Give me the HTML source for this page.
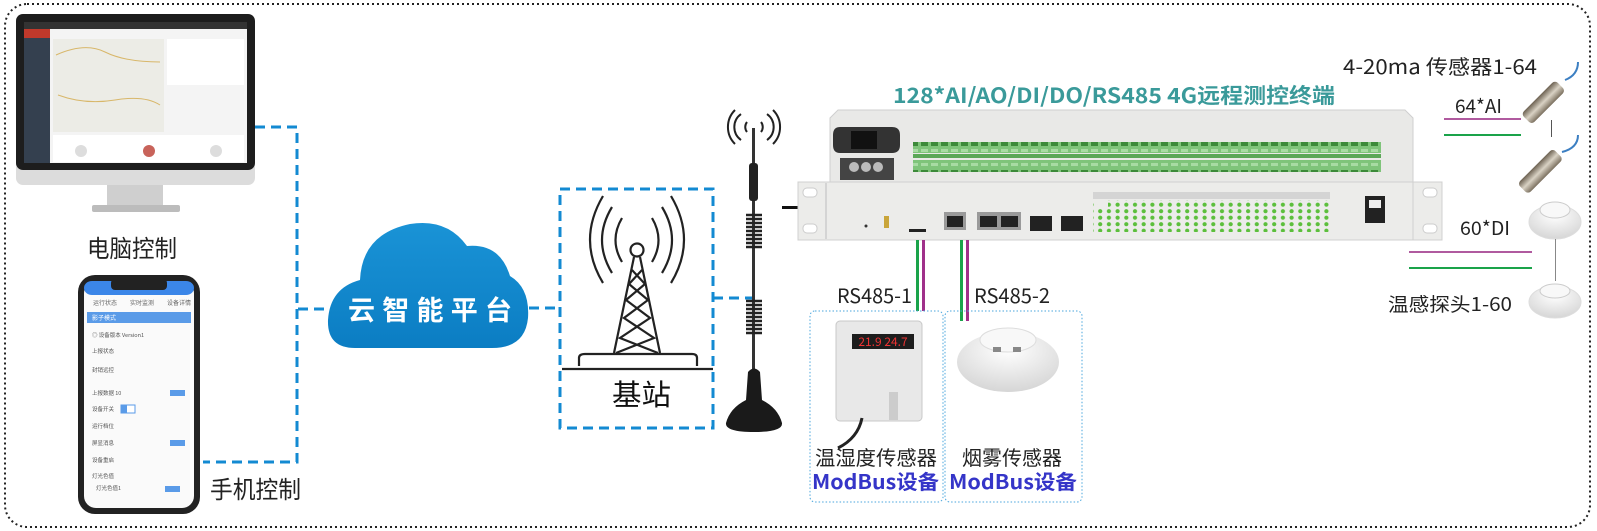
<!DOCTYPE html>
<html><head><meta charset="utf-8"><style>
html,body{margin:0;padding:0;background:#fff;}
svg{display:block;}
text{font-family:"Noto Sans CJK SC","Liberation Sans",sans-serif;}
</style></head><body>
<svg width="1597" height="531" viewBox="0 0 1597 531" xmlns="http://www.w3.org/2000/svg">
<defs>
<linearGradient id="cl" x1="0" y1="0" x2="0" y2="1"><stop offset="0" stop-color="#1a93d6"/><stop offset="1" stop-color="#0b7dc3"/></linearGradient>
<linearGradient id="probe" x1="0" y1="0" x2="1" y2="0"><stop offset="0" stop-color="#6b6050"/><stop offset=".5" stop-color="#d9d2c4"/><stop offset="1" stop-color="#7a6f5e"/></linearGradient>
<radialGradient id="smk" cx=".5" cy=".3" r=".7"><stop offset="0" stop-color="#fff"/><stop offset="1" stop-color="#d6d6d6"/></radialGradient>
<pattern id="term" width="10" height="14" patternUnits="userSpaceOnUse"><rect width="10" height="14" fill="#7fc47a"/><rect x="1" y="2" width="7" height="4" fill="#3d8a3a"/><rect x="1" y="9" width="7" height="3" fill="#a8dba3"/></pattern>
<pattern id="leds" width="8.7" height="6.5" patternUnits="userSpaceOnUse"><circle cx="4" cy="3.2" r="2.1" fill="#5cbf3c"/></pattern>
</defs>

<rect x="5" y="4" width="1585" height="523" rx="22" fill="none" stroke="#222" stroke-width="2" stroke-dasharray="2 3"/>

<!-- monitor -->
<rect x="16" y="14" width="239" height="171" rx="7" fill="#dcdcdc"/>
<rect x="16" y="14" width="239" height="156" rx="7" fill="#1d1d1d"/>
<rect x="24" y="22" width="223" height="141" fill="#f4f4f4"/>
<rect x="24" y="22" width="223" height="7" fill="#333"/>
<rect x="24" y="29" width="26" height="134" fill="#34404f"/>
<rect x="24" y="29" width="26" height="9" fill="#c0392b"/>
<rect x="53" y="39" width="111" height="93" fill="#ecece6"/>
<path d="M56 55 Q85 42 105 52 T160 62 M58 95 Q85 105 115 100 T160 105" stroke="#d8b76a" fill="none"/>
<rect x="167" y="39" width="77" height="46" fill="#fff"/>
<rect x="53" y="135" width="191" height="27" fill="#fff"/>
<circle cx="81" cy="151" r="6" fill="#ddd"/><circle cx="149" cy="151" r="6" fill="#c8635a"/><circle cx="216" cy="151" r="6" fill="#ddd"/>
<rect x="107" y="185" width="56" height="20" fill="#cfcfcf"/>
<rect x="92" y="205" width="88" height="7" rx="2" fill="#bcbcbc"/>
<text x="87" y="257" font-size="24" fill="#222" textLength="90" lengthAdjust="spacingAndGlyphs">电脑控制</text>

<!-- phone -->
<rect x="78" y="275" width="122" height="239" rx="17" fill="#222"/>
<rect x="84" y="281" width="110" height="227" rx="12" fill="#fafafa"/>
<rect x="84" y="281" width="110" height="14" rx="8" fill="#3b86e8"/>
<rect x="111" y="279" width="56" height="11" rx="4" fill="#222"/>
<text x="93" y="305" font-size="6" fill="#666">运行状态</text><text x="130" y="305" font-size="6" fill="#666">实时监测</text><text x="167" y="305" font-size="6" fill="#666">设备详情</text>
<rect x="87" y="312" width="104" height="11" fill="#5a9be8"/>
<text x="92" y="320" font-size="6" fill="#fff">影子模式</text>
<g font-size="5.5" fill="#555">
<text x="92" y="337">◎ 设备版本  Version1</text><text x="92" y="353">上报状态</text><text x="92" y="372">封销远控</text>
<text x="92" y="395">上报数据  10</text><text x="92" y="411">设备开关</text><text x="92" y="428">运行档位</text><text x="92" y="445">屏显消息</text><text x="92" y="462">设备重启</text><text x="92" y="478">灯光色值</text><text x="96" y="490">灯光色值1</text></g>
<rect x="170" y="390" width="15" height="6" fill="#5a9be8"/><rect x="170" y="440" width="15" height="6" fill="#5a9be8"/><rect x="165" y="486" width="15" height="6" fill="#5a9be8"/>
<rect x="121" y="405" width="14" height="8" fill="#fff" stroke="#5a9be8"/><rect x="121" y="405" width="6" height="8" fill="#5a9be8"/>
<text x="210" y="498" font-size="24" fill="#222" textLength="91" lengthAdjust="spacingAndGlyphs">手机控制</text>

<!-- blue dashed connectors -->
<g stroke="#138ad2" stroke-width="3" fill="none" stroke-dasharray="10 6">
<path d="M255 127 H297 V462 H203"/>
<path d="M298 309 H327"/>
<path d="M529 308 H560"/>
<rect x="560" y="189" width="153" height="239"/>
<path d="M713 298 H760"/>
</g>

<!-- cloud -->
<path d="M355 348 Q327 348 328 320 Q330 288 360 280 Q362 234 410 224 Q447 218 467 246 Q500 243 510 276 Q530 288 528 318 Q525 348 492 348 Z" fill="url(#cl)"/>
<text x="348" y="320" font-size="27" font-weight="bold" fill="#fff" textLength="164" lengthAdjust="spacing">云智能平台</text>

<!-- tower -->
<g stroke="#222" stroke-width="2.2" fill="none">
<circle cx="637" cy="250" r="6.5"/>
<path d="M622 262 Q609 240 622 218 M652 218 Q665 240 652 262"/>
<path d="M612 273 Q592 240 612 207 M662 207 Q682 240 662 273"/>
<path d="M603 283 Q577 240 603 196 M671 196 Q697 240 671 283"/>
<path d="M634 257 L614 353 M640 257 L660 353"/>
<path d="M632 270 L645 284 L626 300 L650 318 L620 338 L658 353 M642 270 L629 284 L648 300 L624 318 L654 338 L616 353"/>
<path d="M579 366 V358 Q579 354 585 354 H692 Q697 354 697 358 V366"/>
<path d="M562 369 H713"/>
</g>
<text x="612" y="405" font-size="29" fill="#111" textLength="59" lengthAdjust="spacingAndGlyphs">基站</text>

<!-- antenna -->
<g stroke="#222" stroke-width="2" fill="none">
<path d="M747 132 a8 8 0 0 1 0 -10 M761 122 a8 8 0 0 1 0 10"/>
<path d="M741 140 a16 16 0 0 1 0 -26 M767 114 a16 16 0 0 1 0 26"/>
<path d="M735 144 a24 24 0 0 1 0 -34 M773 110 a24 24 0 0 1 0 34"/>
</g>
<rect x="752" y="128" width="3" height="262" fill="#333"/>
<rect x="749" y="163" width="9" height="38" rx="3" fill="#222"/>
<g stroke="#222" stroke-width="2.4"><path d="M746 215 H762 M746 219 H762 M746 223 H762 M746 227 H762 M746 231 H762 M746 235 H762 M746 239 H762 M746 243 H762 M746 247 H762"/>
<path d="M746 301 H762 M746 305 H762 M746 309 H762 M746 313 H762 M746 317 H762 M746 321 H762 M746 325 H762 M746 329 H762 M746 333 H762"/></g>
<path d="M748 372 Q754 365 760 372 L762 400 Q778 408 782 423 Q783 432 754 432 Q725 432 726 423 Q730 408 746 400 Z" fill="#1a1a1a"/>

<!-- device -->
<rect x="782" y="206" width="16" height="3" fill="#111"/>
<path d="M838 110 L1405 110 L1413 118 L1413 182 L830 182 L830 118 Z" fill="#e9e9e7" stroke="#cfcfcf"/>
<path d="M838 127 H892 Q900 127 900 135 V145 Q900 153 892 153 H840 Q833 153 833 145 V135 Q833 127 840 127 Z" fill="#333"/>
<rect x="851" y="131" width="26" height="18" fill="#111"/>
<rect x="840" y="158" width="54" height="22" fill="#444"/><circle cx="854" cy="167" r="5" fill="#bbb"/><circle cx="866" cy="167" r="5" fill="#bbb"/><circle cx="878" cy="167" r="5" fill="#bbb"/>
<rect x="913" y="142" width="468" height="11" fill="url(#term)"/>
<rect x="913" y="154" width="468" height="4" fill="#5ba757"/>
<rect x="913" y="160" width="468" height="12" fill="url(#term)"/>
<rect x="798" y="182" width="615" height="58" fill="#ececea" stroke="#d0d0d0"/>
<rect x="1413" y="182" width="29" height="58" fill="#ececea" stroke="#d0d0d0"/>
<rect x="803" y="188" width="14" height="9" rx="4" fill="#fff" stroke="#ccc"/><rect x="803" y="224" width="14" height="9" rx="4" fill="#fff" stroke="#ccc"/>
<rect x="1423" y="188" width="14" height="9" rx="4" fill="#fff" stroke="#ccc"/><rect x="1423" y="224" width="14" height="9" rx="4" fill="#fff" stroke="#ccc"/>
<rect x="825" y="183" width="2" height="56" fill="#d4d4d4"/>
<circle cx="866" cy="226" r="1.5" fill="#333"/><rect x="884" y="216" width="5" height="12" fill="#c9a53a"/>
<rect x="909" y="229" width="17" height="3" fill="#222"/>
<rect x="944" y="212" width="22" height="18" fill="#9a9a9a"/><rect x="947" y="216" width="16" height="11" fill="#222"/>
<rect x="977" y="212" width="44" height="18" fill="#9a9a9a"/><rect x="980" y="216" width="17" height="11" fill="#222"/><rect x="1001" y="216" width="17" height="11" fill="#222"/>
<rect x="1030" y="216" width="22" height="15" fill="#222"/><rect x="1061" y="216" width="22" height="15" fill="#222"/>
<rect x="1093" y="192" width="237" height="7" fill="#c4c4c4" opacity=".6"/>
<rect x="1093" y="200" width="237" height="32" fill="url(#leds)"/>
<rect x="1098" y="200" width="10" height="7" fill="#ececea"/>
<rect x="1365" y="196" width="20" height="27" fill="#222"/><rect x="1369" y="200" width="12" height="8" fill="#eee"/>
<text x="893" y="103" font-size="21" font-weight="bold" fill="#3a9a9a" textLength="442" lengthAdjust="spacingAndGlyphs">128*AI/AO/DI/DO/RS485 4G远程测控终端</text>

<!-- rs485 wires -->
<rect x="916" y="240" width="3" height="71" fill="#1aa34a"/><rect x="922" y="240" width="3" height="71" fill="#a0308a"/>
<rect x="960" y="240" width="3" height="81" fill="#1aa34a"/><rect x="966" y="240" width="3" height="81" fill="#a0308a"/>
<text x="837" y="303" font-size="20" fill="#222" textLength="75" lengthAdjust="spacingAndGlyphs">RS485-1</text>
<text x="974" y="303" font-size="20" fill="#222" textLength="76" lengthAdjust="spacingAndGlyphs">RS485-2</text>

<!-- sensor boxes -->
<rect x="810" y="311" width="133" height="191" rx="5" fill="none" stroke="#4aa6dd" stroke-dasharray="1.5 2"/>
<rect x="945" y="311" width="137" height="191" rx="5" fill="none" stroke="#4aa6dd" stroke-dasharray="1.5 2"/>
<rect x="836" y="321" width="86" height="100" rx="4" fill="#e8e8e8" stroke="#c8c8c8"/>
<rect x="852" y="334" width="62" height="15" fill="#1d1d1d"/>
<text x="883" y="346" font-size="12" fill="#e33" text-anchor="middle" font-family="Liberation Mono">21.9 24.7</text>
<rect x="889" y="392" width="9" height="28" fill="#ccc"/>
<path d="M862 418 Q858 438 838 448" stroke="#222" stroke-width="3" fill="none"/>
<ellipse cx="1008" cy="362" rx="51" ry="30" fill="url(#smk)"/>
<ellipse cx="1008" cy="340" rx="28" ry="12" fill="#f8f8f8" stroke="#ddd"/>
<rect x="993" y="347" width="8" height="5" fill="#888"/><rect x="1013" y="347" width="8" height="5" fill="#888"/>
<text x="815" y="465" font-size="20" fill="#222" textLength="122" lengthAdjust="spacingAndGlyphs">温湿度传感器</text>
<text x="812" y="489" font-size="20" font-weight="bold" fill="#3535c8" textLength="127" lengthAdjust="spacingAndGlyphs">ModBus设备</text>
<text x="962" y="465" font-size="20" fill="#222" textLength="100" lengthAdjust="spacingAndGlyphs">烟雾传感器</text>
<text x="949" y="489" font-size="20" font-weight="bold" fill="#3535c8" textLength="128" lengthAdjust="spacingAndGlyphs">ModBus设备</text>

<!-- right side -->
<text x="1343" y="74" font-size="20" fill="#222" textLength="194" lengthAdjust="spacingAndGlyphs">4-20ma 传感器1-64</text>
<text x="1455" y="113" font-size="19" fill="#222" textLength="47" lengthAdjust="spacingAndGlyphs">64*AI</text>
<rect x="1444" y="118" width="77" height="2" fill="#b05a9f"/><rect x="1444" y="134" width="77" height="2" fill="#1aa34a"/>
<rect x="1551" y="120" width="1" height="17" fill="#555"/>
<rect x="1409" y="251" width="123" height="2" fill="#b05a9f"/><rect x="1409" y="267" width="123" height="2" fill="#1aa34a"/>
<text x="1460" y="235" font-size="19" fill="#222" textLength="50" lengthAdjust="spacingAndGlyphs">60*DI</text>
<text x="1388" y="311" font-size="19" fill="#222" textLength="124" lengthAdjust="spacingAndGlyphs">温感探头1-60</text>
<path d="M1565 80 Q1578 75 1578 62" stroke="#3c7fc2" stroke-width="2" fill="none"/>
<rect x="1536" y="78" width="15" height="48" rx="4" fill="url(#probe)" transform="rotate(45 1543 102)"/>
<path d="M1562 152 Q1578 148 1578 135" stroke="#3c7fc2" stroke-width="2" fill="none"/>
<rect x="1533" y="146" width="15" height="50" rx="4" fill="url(#probe)" transform="rotate(45 1540 171)"/>
<ellipse cx="1555" cy="222" rx="26" ry="17" fill="url(#smk)" stroke="#ddd"/>
<ellipse cx="1555" cy="210" rx="15" ry="8" fill="#f8f8f8" stroke="#ccc"/>
<rect x="1555" y="239" width="1" height="42" fill="#888"/>
<ellipse cx="1555" cy="302" rx="26" ry="16" fill="url(#smk)" stroke="#ddd"/>
<ellipse cx="1555" cy="291" rx="15" ry="7" fill="#f8f8f8" stroke="#ccc"/>
</svg>
</body></html>
